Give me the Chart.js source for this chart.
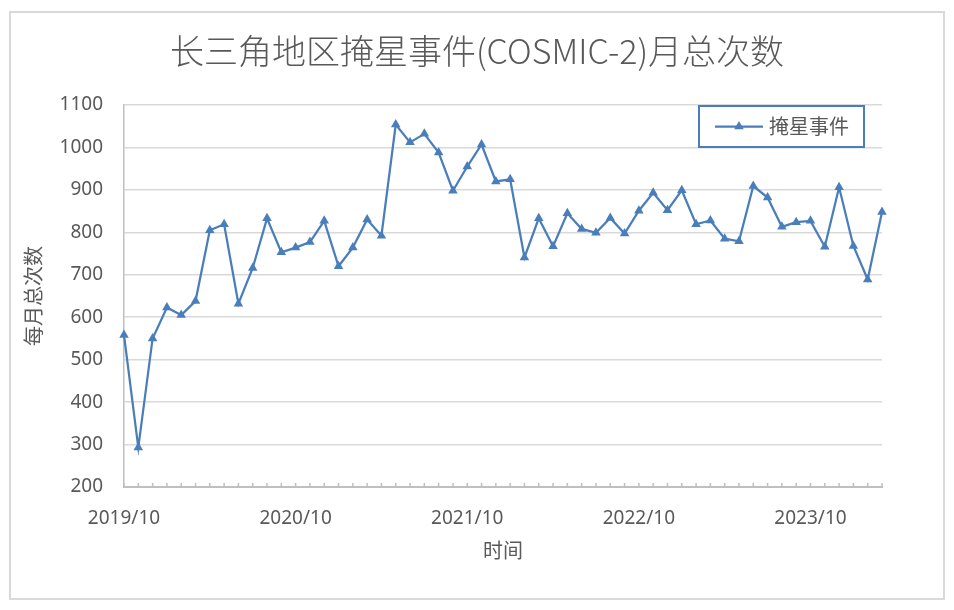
<!DOCTYPE html>
<html>
<head>
<meta charset="utf-8">
<script src="https://cdn.jsdelivr.net/npm/chart.js@4.4.1/dist/chart.umd.min.js"></script>
<style>
  html, body { margin: 0; padding: 0; background: #fff; }
  #wrap { width: 954px; height: 610px; }
</style>
</head>
<body>
<div id="wrap"><canvas id="occ-chart" width="954" height="610"></canvas></div>
<script>
// months on the x axis (2019/10 .. 2024/03)
var months = [
    '2019/10', '2019/11', '2019/12',
    '2020/01', '2020/02', '2020/03', '2020/04', '2020/05', '2020/06', '2020/07', '2020/08', '2020/09', '2020/10', '2020/11', '2020/12',
    '2021/01', '2021/02', '2021/03', '2021/04', '2021/05', '2021/06', '2021/07', '2021/08', '2021/09', '2021/10', '2021/11', '2021/12',
    '2022/01', '2022/02', '2022/03', '2022/04', '2022/05', '2022/06', '2022/07', '2022/08', '2022/09', '2022/10', '2022/11', '2022/12',
    '2023/01', '2023/02', '2023/03', '2023/04', '2023/05', '2023/06', '2023/07', '2023/08', '2023/09', '2023/10', '2023/11', '2023/12',
    '2024/01', '2024/02', '2024/03'
];

// monthly occultation events
var occEvents = [
    558, 293, 550,
    623, 605, 638, 805, 819, 632, 716, 833, 753, 764, 777, 827,
    720, 764, 830, 792, 1054, 1012, 1032, 988, 898, 955, 1007, 920,
    925, 741, 833, 767, 845, 808, 799, 834, 797, 851, 893, 852,
    899, 819, 828, 785, 779, 909, 882, 813, 824, 827, 766, 906,
    768, 689, 848
];

// labels shown under the x axis
var xTickLabels = ['2019/10', '2020/10', '2021/10', '2022/10', '2023/10'];

var yMin = 200, yMax = 1100, yStep = 100;

var chartTitle = '长三角地区掩星事件(COSMIC-2)月总次数';
var textColor = '#595959';
var lineColor = '#4A7EBB';
var cjkFont = '"Noto Sans CJK SC", "Noto Sans", sans-serif';
var numFont = '"Noto Sans", "Noto Sans CJK SC", sans-serif';

// background, title, outer frame, inward x ticks and the boxed legend
var decorations = {
    id: 'decorations',
    beforeDraw: function (chart) {
        var c = chart.ctx;
        c.save();
        c.fillStyle = '#ffffff';
        c.fillRect(0, 0, chart.width, chart.height);
        c.restore();
    },
    beforeDatasetsDraw: function (chart) {
        var c = chart.ctx;
        var xs = chart.scales.x;
        var bottom = chart.chartArea.bottom;
        c.save();
        c.strokeStyle = '#BFBFBF';
        c.lineWidth = 1.5;
        for (var i = 0; i < xs.ticks.length; i++) {
            var px = xs.getPixelForTick(i);
            c.beginPath();
            c.moveTo(px, bottom);
            c.lineTo(px, bottom - 4);
            c.stroke();
        }
        c.restore();
    },
    afterDraw: function (chart) {
        var c = chart.ctx;
        c.save();
        // title is centred on the whole picture, not the plot
        c.fillStyle = textColor;
        c.font = '300 34px ' + cjkFont;
        c.textAlign = 'center';
        c.textBaseline = 'middle';
        c.fillText(chartTitle, chart.width / 2, 51);

        // outer frame
        c.strokeStyle = '#D9D9D9';
        c.lineWidth = 2;
        c.strokeRect(10, 12, 934, 587);

        // legend box
        var lx = 699, ly = 106, lw = 165, lh = 41;
        c.fillStyle = '#ffffff';
        c.fillRect(lx, ly, lw, lh);
        c.strokeStyle = lineColor;
        c.lineWidth = 2;
        c.strokeRect(lx, ly, lw, lh);

        var my = ly + lh / 2;
        c.strokeStyle = lineColor;
        c.lineWidth = 2.25;
        c.beginPath();
        c.moveTo(715, my);
        c.lineTo(763, my);
        c.stroke();
        c.fillStyle = lineColor;
        c.beginPath();
        c.moveTo(739, my - 5.5);
        c.lineTo(739 + 4.8, my + 2.75);
        c.lineTo(739 - 4.8, my + 2.75);
        c.closePath();
        c.fill();

        c.fillStyle = textColor;
        c.font = '20px ' + cjkFont;
        c.textAlign = 'left';
        c.textBaseline = 'middle';
        c.fillText(chart.data.datasets[0].label, 769, my);
        c.restore();
    }
};

var ctx = document.getElementById('occ-chart').getContext('2d');

var occChart = new Chart(ctx, {
    type: 'line',
    data: {
        labels: months,
        datasets: [{
            label: '掩星事件',
            data: occEvents,
            borderColor: lineColor,
            backgroundColor: lineColor,
            borderWidth: 2.25,
            pointStyle: 'triangle',
            pointRadius: 5.5,
            pointBorderWidth: 0,
            pointBackgroundColor: lineColor,
            tension: 0,
            fill: false
        }]
    },
    options: {
        responsive: false,
        animation: false,
        layout: {
            padding: { left: 14, right: 72, top: 105, bottom: 20 }
        },
        plugins: {
            legend: { display: false },
            tooltip: { enabled: false },
            title: { display: false }
        },
        scales: {
            x: {
                offset: false,
                grid: { display: false },
                border: { display: true, color: '#BFBFBF', width: 2 },
                ticks: {
                    autoSkip: false,
                    maxRotation: 0,
                    padding: 12,
                    color: textColor,
                    font: { family: numFont, size: 19 },
                    callback: function (value) {
                        var lab = this.getLabelForValue(value);
                        return xTickLabels.indexOf(lab) >= 0 ? lab : '';
                    }
                },
                title: {
                    display: true,
                    text: '时间',
                    color: textColor,
                    font: { family: cjkFont, size: 20 },
                    padding: { top: 0, bottom: 28 }
                },
                afterFit: function (scale) { scale.height = 103; }
            },
            y: {
                min: yMin,
                max: yMax,
                grid: { color: '#D9D9D9', lineWidth: 1.5, drawTicks: false },
                border: { display: true, color: '#BFBFBF', width: 1.5 },
                ticks: {
                    stepSize: yStep,
                    padding: 21,
                    color: textColor,
                    font: { family: numFont, size: 19 },
                    callback: function (value) { return String(value); }
                },
                title: {
                    display: true,
                    text: '每月总次数',
                    color: textColor,
                    font: { family: cjkFont, size: 20 },
                    padding: { top: 7, bottom: 0 }
                },
                afterFit: function (scale) { scale.width = 110; }
            }
        }
    },
    plugins: [decorations]
});
</script>
</body>
</html>
